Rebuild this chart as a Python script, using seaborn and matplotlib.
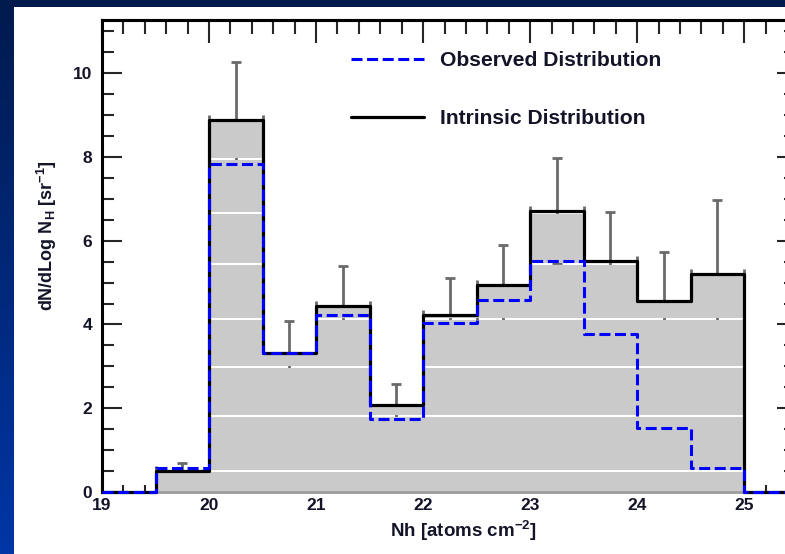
import numpy as np
import matplotlib
matplotlib.use("Agg")
import matplotlib.pyplot as plt
from matplotlib.patches import Rectangle
from matplotlib.colors import LinearSegmentedColormap
from matplotlib.ticker import MultipleLocator, FixedLocator
import seaborn as sns

# Column-density bins (log N_H) and the two distributions
bin_edges = [19.0, 19.5, 20.0, 20.5, 21.0, 21.5, 22.0, 22.5, 23.0, 23.5, 24.0, 24.5, 25.0, 25.5]
intrinsic = [0.0, 0.50, 8.88, 3.32, 4.45, 2.07, 4.22, 4.95, 6.72, 5.52, 4.57, 5.20, 0.0]
observed = [0.0, 0.57, 7.84, 3.32, 4.22, 1.74, 4.04, 4.58, 5.52, 3.78, 1.53, 0.57, 0.0]
# uncertainties of the intrinsic distribution, bins 19.5 ... 25
intrinsic_err = [0.19, 1.38, 0.77, 0.95, 0.52, 0.90, 0.95, 1.25, 1.17, 1.16, 1.77]

x_ticks = [19, 20, 21, 22, 23, 24, 25]
y_ticks = [0, 2, 4, 6, 8, 10]
legend_labels = ["Observed Distribution", "Intrinsic Distribution"]
x_label = r"Nh [atoms cm$^{-2}$]"
y_label = r"dN/dLog N$_{\rm H}$ [sr$^{-1}$]"

# levels of the white stripes in the shaded fill pattern
stripe_levels = [0.5, 1.81, 2.98, 4.12, 5.45, 6.67, 7.95]

sns.set_style("white")
plt.rcParams["font.family"] = ["Liberation Sans", "DejaVu Sans"]
plt.rcParams["font.weight"] = "bold"
plt.rcParams["mathtext.fontset"] = "custom"
plt.rcParams["mathtext.rm"] = "Liberation Sans:bold"
plt.rcParams["mathtext.it"] = "Liberation Sans:bold"
plt.rcParams["mathtext.bf"] = "Liberation Sans:bold"

W, H = 785, 554
fig = plt.figure(figsize=(W / 100, H / 100), dpi=100)

# slide background: blue gradient with a white panel
bg = fig.add_axes([0, 0, 1, 1])
bg.set_axis_off()
grad = np.linspace(0, 1, 256)[:, None]
slide_cmap = LinearSegmentedColormap.from_list("slide", ["#001a4e", "#0036a6"])
bg.imshow(grad, aspect="auto", cmap=slide_cmap, extent=[0, 1, 0, 1], origin="upper")
bg.add_patch(Rectangle((14 / W, 0), 1, (H - 7) / H, transform=bg.transAxes,
                       facecolor="white", edgecolor="none"))
bg.set_xlim(0, 1)
bg.set_ylim(0, 1)

ax = fig.add_axes([102 / W, 62 / H, 685 / W, 472 / H])
ax.set_facecolor("white")
ax.set_axisbelow(True)

edges = np.array(bin_edges)
centers = 0.5 * (edges[:-1] + edges[1:])
heights = np.array(intrinsic)
step_y = np.append(heights, heights[-1])

# error bars sit behind the shaded fill and show through its white stripes
ax.errorbar(centers[1:-1], heights[1:-1], yerr=intrinsic_err, xerr=0.25,
            fmt="none", ecolor="#6a6a6a", elinewidth=2.0, capsize=3.3,
            capthick=2.0, zorder=1.5)

# shaded fill under the intrinsic distribution, split into stripes
gap = 0.05
bounds = [0.0] + stripe_levels + [20.0]
for i in range(len(bounds) - 1):
    lo = bounds[i] + (gap / 2 if i > 0 else 0.0)
    hi = bounds[i + 1] - gap / 2
    top = np.clip(step_y, lo, hi)
    ax.fill_between(edges, lo, top, step="post", facecolor="#cacaca",
                    edgecolor="none", linewidth=0, zorder=2)
ax.hlines(0, edges[1], edges[-2], colors="#9c9c9c", linewidth=2.0,
          zorder=2.2, clip_on=False)

n0 = len(ax.lines)
sns.histplot(x=centers, weights=intrinsic, bins=bin_edges, element="step",
             fill=False, color="black", linewidth=2.3, ax=ax, zorder=3,
             clip_on=False)
int_line = ax.lines[n0]
n1 = len(ax.lines)
sns.histplot(x=centers, weights=observed, bins=bin_edges, element="step",
             fill=False, color="#0000ff", linewidth=2.2,
             linestyle=(0, (3.6, 1.5)), ax=ax, zorder=4, clip_on=False)
obs_line = ax.lines[n1]

ax.set_xlim(19, 25.4)
ax.set_ylim(0, 11.27)

ax.xaxis.set_major_locator(FixedLocator(x_ticks))
ax.xaxis.set_minor_locator(MultipleLocator(0.2))
ax.yaxis.set_major_locator(FixedLocator(y_ticks))
ax.yaxis.set_minor_locator(MultipleLocator(0.5))
ax.set_xticklabels([str(t) for t in x_ticks])
ax.set_yticklabels([str(t) for t in y_ticks])

tick_color = "#141428"
ax.tick_params(axis="x", which="major", direction="in", length=11, width=1.5,
               bottom=True, top=False, labelsize=12.5, pad=4.5, labelcolor=tick_color)
ax.tick_params(axis="x", which="minor", direction="in", length=5, width=1.5,
               bottom=True, top=False)
ax.tick_params(axis="y", which="major", direction="in", length=14.5, width=1.5,
               left=True, right=False, labelsize=12.5, pad=7, labelcolor=tick_color)
ax.tick_params(axis="y", which="minor", direction="in", length=8.6, width=1.5,
               left=True, right=False)

for side in ("bottom", "right"):
    ax.spines[side].set_visible(False)
for side in ("left", "top"):
    ax.spines[side].set_linewidth(2.2)
    ax.spines[side].set_color("black")

secx = ax.secondary_xaxis("top")
secx.xaxis.set_major_locator(FixedLocator(x_ticks))
secx.xaxis.set_minor_locator(MultipleLocator(0.2))
secx.tick_params(which="major", direction="in", length=16.5, width=1.5, labeltop=False)
secx.tick_params(which="minor", direction="in", length=10, width=1.5)
secx.spines["top"].set_linewidth(2.2)

secy = ax.secondary_yaxis("right")
secy.yaxis.set_major_locator(FixedLocator(y_ticks))
secy.yaxis.set_minor_locator(MultipleLocator(0.5))
secy.tick_params(which="major", direction="in", length=7, width=1.5, labelright=False)
secy.tick_params(which="minor", direction="in", length=2, width=1.5)

ax.set_xlabel(x_label, fontsize=13.5, fontweight="bold", color=tick_color)
ax.set_ylabel(y_label, fontsize=13, fontweight="bold", color=tick_color)
ax.xaxis.set_label_coords(0.528, -0.056)
ax.yaxis.set_label_coords(-0.063, 0.543)

leg = ax.legend(handles=[obs_line, int_line], labels=legend_labels,
                loc="upper left", bbox_to_anchor=(351 / W, 1 - 51 / H),
                bbox_transform=fig.transFigure, frameon=False,
                prop={"family": "Liberation Sans", "weight": "bold", "size": 15.2},
                handlelength=3.45, handletextpad=0.75, labelspacing=1.85,
                borderpad=0, borderaxespad=0)
for t in leg.get_texts():
    t.set_color(tick_color)

fig.savefig("out.png", dpi=100)
